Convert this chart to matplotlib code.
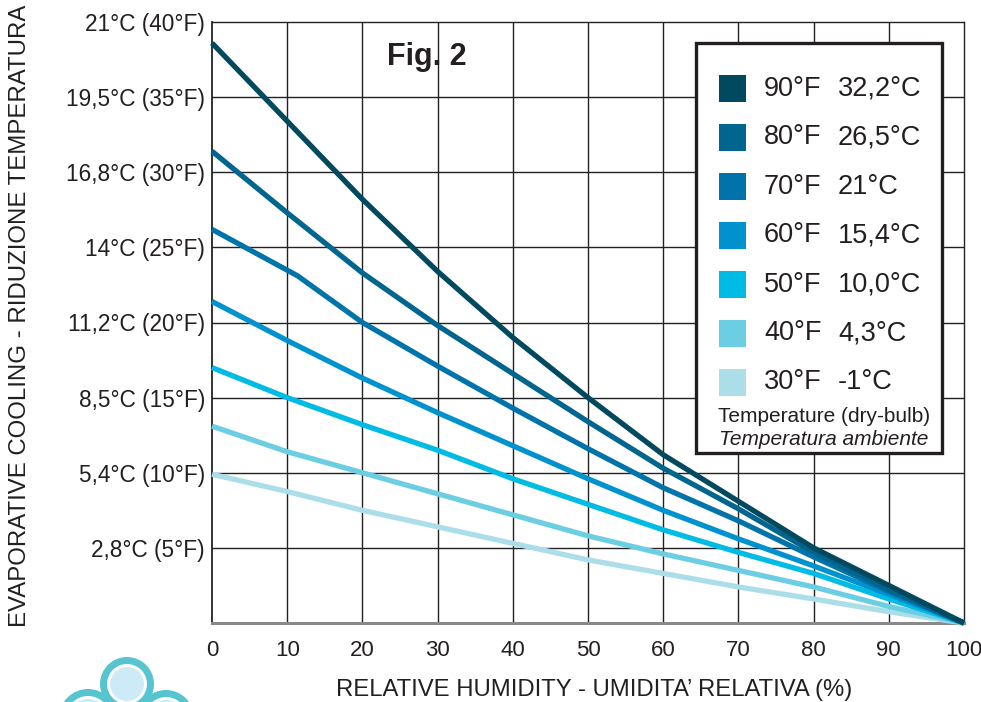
import matplotlib
matplotlib.use("Agg")
import matplotlib.pyplot as plt
from matplotlib.patches import Rectangle, Circle
from matplotlib.transforms import IdentityTransform

plt.rcParams['font.family'] = ['Liberation Sans', 'DejaVu Sans']

# ---- data ----
humidity = [0, 10, 20, 30, 40, 50, 60, 70, 80, 90, 100]
humidity_70 = [0, 11.4, 20, 30, 40, 50, 60, 70, 80, 90, 100]
cool_90F = [38.6, 33.4, 28.2, 23.4, 19.0, 15.0, 11.2, 8.1, 5.0, 2.5, 0]
cool_80F = [31.4, 27.3, 23.3, 19.8, 16.6, 13.4, 10.3, 7.6, 4.7, 2.2, 0]
cool_70F = [26.2, 23.1, 20.0, 17.1, 14.3, 11.6, 9.0, 6.8, 4.4, 2.1, 0]
cool_60F = [21.4, 18.8, 16.3, 14.0, 11.8, 9.6, 7.5, 5.6, 3.8, 1.9, 0]
cool_50F = [17.0, 15.0, 13.2, 11.5, 9.6, 7.9, 6.2, 4.7, 3.3, 1.6, 0]
cool_40F = [13.1, 11.4, 10.0, 8.6, 7.2, 5.8, 4.6, 3.5, 2.4, 1.1, 0]
cool_30F = [9.9, 8.75, 7.5, 6.4, 5.3, 4.2, 3.3, 2.4, 1.6, 0.75, 0]

series_labels_F = ["90°F", "80°F", "70°F", "60°F", "50°F", "40°F", "30°F"]
series_labels_C = ["32,2°C", "26,5°C", "21°C", "15,4°C", "10,0°C", "4,3°C", "-1°C"]
series_colors = ["#01495f", "#00668f", "#0074aa", "#0092cf", "#00bce4", "#6ccee3", "#abdee8"]

x_ticks = [0, 10, 20, 30, 40, 50, 60, 70, 80, 90, 100]
y_ticks = [5, 10, 15, 20, 25, 30, 35, 40]
y_tick_labels = ["2,8°C (5°F)", "5,4°C (10°F)", "8,5°C (15°F)", "11,2°C (20°F)",
                 "14°C (25°F)", "16,8°C (30°F)", "19,5°C (35°F)", "21°C (40°F)"]

W, H = 981, 702
fig = plt.figure(figsize=(W / 100, H / 100), dpi=100)

def fx(x):
    return x / W

def fy(y):
    return 1 - y / H

ax = fig.add_axes([fx(212), fy(623), fx(964) - fx(212), fy(22) - fy(623)])
ax.set_xlim(0, 100)
ax.set_ylim(0, 40)

# grid
for xv in x_ticks[1:-1]:
    ax.axvline(xv, color="#222222", lw=1.0, zorder=1)
for yv in y_ticks[:-1]:
    ax.axhline(yv, color="#222222", lw=1.0, zorder=1)

series = [cool_90F, cool_80F, cool_70F, cool_60F, cool_50F, cool_40F, cool_30F]
xs = [humidity, humidity, humidity_70, humidity, humidity, humidity, humidity]
for i in range(len(series) - 1, -1, -1):
    ax.plot(xs[i], series[i], color=series_colors[i], lw=3.8,
            solid_capstyle="butt", solid_joinstyle="round", zorder=3, clip_on=False)

ax.set_xticks(x_ticks)
ax.set_xticklabels([str(v) for v in x_ticks], fontsize=16, color="#231f20")
ax.set_yticks(y_ticks)
ax.set_yticklabels(y_tick_labels, fontsize=16.3, color="#231f20")
ax.tick_params(axis="x", length=0, pad=12)
ax.tick_params(axis="y", length=0, pad=5)

for s in ["top", "right", "left"]:
    ax.spines[s].set_color("#222222")
    ax.spines[s].set_linewidth(1.0)
ax.spines["left"].set_linewidth(1.3)
ax.spines["bottom"].set_color("#8a8a8a")
ax.spines["bottom"].set_linewidth(2.2)

# axis labels
fig.text(fx(594), fy(690), "RELATIVE HUMIDITY - UMIDITA’ RELATIVA (%)", fontsize=17.2,
         ha="center", va="center", color="#231f20")
fig.text(fx(20), fy(316), "EVAPORATIVE COOLING - RIDUZIONE TEMPERATURA", fontsize=17.3,
         rotation=90, ha="center", va="center", color="#231f20")

# Fig. 2
fig.text(fx(427), fy(57), "Fig. 2", fontsize=22, fontweight="bold",
         ha="center", va="center", color="#231f20")

# legend box
fig.patches.append(Rectangle((fx(696), fy(453)), fx(942) - fx(696), fy(43) - fy(453),
                             transform=fig.transFigure, facecolor="white",
                             edgecolor="#231f20", lw=2.4, zorder=5))
for i in range(len(series_labels_F)):
    cy = 88.5 + 49 * i
    fig.patches.append(Rectangle((fx(719), fy(cy + 13.5)), fx(27), 27 / H,
                                 transform=fig.transFigure, facecolor=series_colors[i],
                                 edgecolor="none", zorder=6))
    fig.text(fx(764), fy(cy), series_labels_F[i], fontsize=19.5, ha="left",
             va="center", color="#231f20", zorder=7)
    fig.text(fx(838), fy(cy), series_labels_C[i], fontsize=19.5, ha="left",
             va="center", color="#231f20", zorder=7)
fig.text(fx(824), fy(417), "Temperature (dry-bulb)", fontsize=15, ha="center",
         va="center", color="#231f20", zorder=7)
fig.text(fx(824), fy(440), "Temperatura ambiente", fontsize=15, style="italic",
         ha="center", va="center", color="#231f20", zorder=7)

# logo (partial, bottom-left), drawn in pixel space
pix = IdentityTransform()
lobes = [(88, 718, 29), (166, 718, 28), (127, 684, 27)]
for (cx, cy, r) in lobes:
    fig.patches.append(Circle((cx, H - cy), r, transform=pix,
                              facecolor="#56c5d0", edgecolor="none", zorder=2))
for (cx, cy, r) in lobes:
    fig.patches.append(Circle((cx, H - cy), r - 7, transform=pix,
                              facecolor="white", edgecolor="none", zorder=3))
for (cx, cy, r) in lobes:
    fig.patches.append(Circle((cx, H - cy), r - 10, transform=pix,
                              facecolor="#cdeaf7", edgecolor="none", zorder=4))

fig.savefig("out.png", dpi=100)
